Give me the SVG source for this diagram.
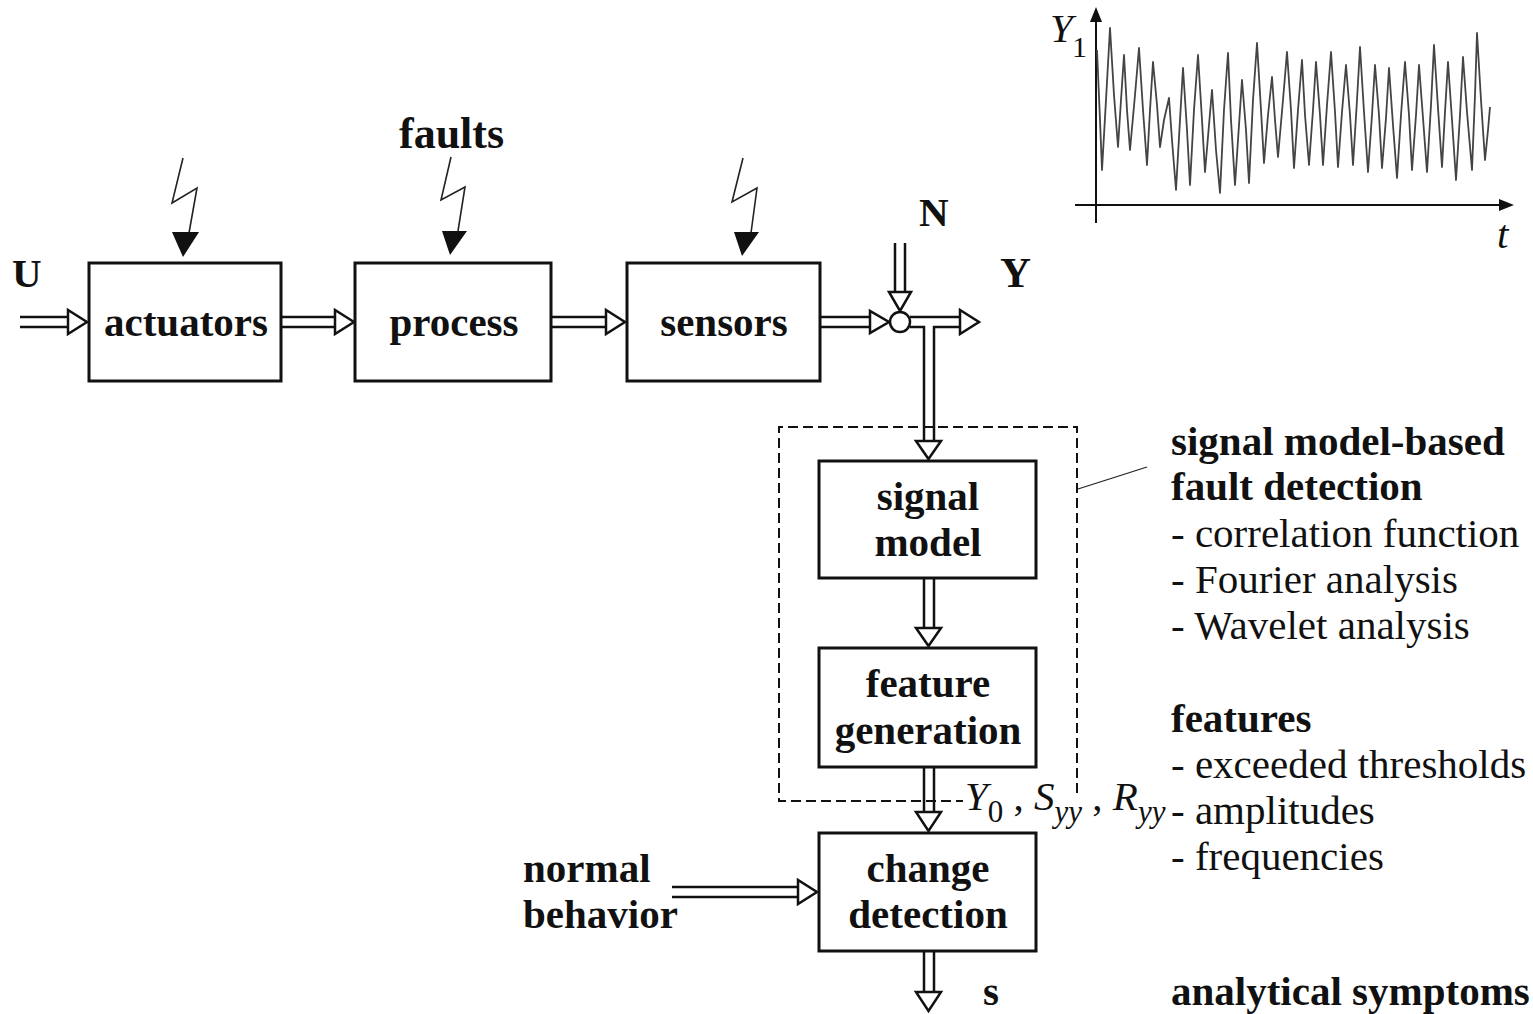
<svg xmlns="http://www.w3.org/2000/svg" width="1533" height="1014" viewBox="0 0 1533 1014">
<style>
.box{fill:#fff;stroke:#111;stroke-width:3}
.lbl{font-family:"Liberation Serif","Times New Roman",serif;font-weight:bold;font-size:41px;fill:#111;text-anchor:middle}
.bt{font-family:"Liberation Serif","Times New Roman",serif;font-weight:bold;font-size:41px;fill:#111}
.rt{font-family:"Liberation Serif","Times New Roman",serif;font-size:41px;fill:#111}
.it{font-family:"Liberation Serif","Times New Roman",serif;font-style:italic;font-size:41px;fill:#111}
.dl{fill:none;stroke:#111;stroke-width:2.5}
.hd{fill:#fff;stroke:#111;stroke-width:2.5;stroke-linejoin:miter}
.bolt{fill:none;stroke:#222;stroke-width:1.6}
.fh{fill:#111;stroke:none}
</style>
<rect width="1533" height="1014" fill="#fff"/>

<!-- chart -->
<g id="chart">
<line x1="1096" y1="223" x2="1096" y2="20" stroke="#111" stroke-width="2"/>
<polygon class="fh" points="1096,7 1090,22 1102,22"/>
<line x1="1075" y1="205" x2="1500" y2="205" stroke="#111" stroke-width="2"/>
<polygon class="fh" points="1514,205 1499,199 1499,211"/>
<polyline fill="none" stroke="#444" stroke-width="1.8" stroke-linejoin="round" points="1097,50 1100,120 1102,170 1106,100 1110,28 1114,95 1118,147 1121,100 1124,55 1127,110 1130,150 1135,95 1139,48 1143,110 1147,165 1150,110 1153,62 1157,105 1160,147 1164,120 1169,98 1172,140 1176,190 1180,120 1183,68 1187,130 1190,185 1194,110 1198,55 1202,120 1205,172 1209,125 1212,90 1216,150 1220,193 1224,110 1228,53 1231,120 1235,185 1239,125 1242,80 1246,130 1249,183 1253,100 1257,43 1261,110 1264,163 1268,115 1272,77 1275,120 1278,157 1283,100 1287,52 1291,110 1294,168 1298,110 1302,60 1305,115 1309,165 1313,110 1316,62 1320,115 1323,165 1327,105 1331,52 1335,112 1338,167 1342,112 1346,65 1350,115 1353,165 1357,100 1360,47 1364,112 1368,172 1372,115 1375,65 1379,115 1382,168 1386,118 1389,68 1393,125 1397,178 1401,115 1405,62 1409,115 1412,170 1416,115 1419,65 1423,118 1427,172 1431,105 1434,45 1438,108 1442,167 1445,112 1448,62 1452,120 1456,180 1460,115 1463,57 1467,112 1472,170 1475,95 1477,33 1481,100 1485,160 1488,130 1490,107"/>
<text class="it" x="1050" y="42">Y</text>
<text x="1072" y="57" font-family="Liberation Serif, serif" font-size="30" fill="#111">1</text>
<text class="it" x="1497" y="248">t</text>
</g>

<!-- faults -->
<g id="faults">
<text class="bt" x="399" y="148" style="font-size:44px">faults</text>
<polyline class="bolt" points="183,158 172,203 197,188 189,233"/>
<polygon class="fh" points="172,232 199,232 183,257"/>
<polyline class="bolt" points="451,157 441,200 465,187 458,231"/>
<polygon class="fh" points="442,231 467,231 450,255"/>
<polyline class="bolt" points="743,158 732,202 757,188 751,233"/>
<polygon class="fh" points="734,232 759,232 742,256"/>
</g>

<!-- connectors -->
<g id="connectors">
<path class="dl" d="M20,317H70M20,327H70"/>
<polygon class="hd" points="68,310 68,334 87,322"/>
<path class="dl" d="M282,317H337M282,327H337"/>
<polygon class="hd" points="335,310 335,334 354,322"/>
<path class="dl" d="M552,317H608M552,327H608"/>
<polygon class="hd" points="606,310 606,334 625,322"/>
<path class="dl" d="M821,317H872M821,327H872"/>
<polygon class="hd" points="870,311 870,333 889,322"/>
<circle cx="900" cy="322" r="10" fill="#fff" stroke="#111" stroke-width="2.5"/>
<path class="dl" d="M895,243V294M905,243V294"/>
<polygon class="hd" points="889,292 911,292 900,311"/>
<path class="dl" d="M910,317H962M910,327H924V443M934,443V327H962"/>
<polygon class="hd" points="960,310 960,334 979,322"/>
<polygon class="hd" points="916,441 941,441 928.5,459"/>
<path class="dl" d="M924,579V630M934,579V630"/>
<polygon class="hd" points="916,628 941,628 928.5,646"/>
<path class="dl" d="M924,768V814M934,768V814"/>
<polygon class="hd" points="916,812 941,812 928.5,831"/>
<path class="dl" d="M924,952V994M934,952V994"/>
<polygon class="hd" points="916,992 941,992 928.5,1011"/>
<path class="dl" d="M672,887H800M672,897H800"/>
<polygon class="hd" points="798,880 798,904 817,892"/>
<path d="M1077,793V427H779V801H963" fill="none" stroke="#111" stroke-width="2" stroke-dasharray="10,5"/>
<line x1="1078" y1="489" x2="1147" y2="467" stroke="#222" stroke-width="1.3"/>
</g>

<g id="actuators"><rect class="box" x="89" y="263" width="192" height="118"/><text class="lbl" x="186" y="336">actuators</text></g>
<g id="process"><rect class="box" x="355" y="263" width="196" height="118"/><text class="lbl" x="454" y="336">process</text></g>
<g id="sensors"><rect class="box" x="627" y="263" width="193" height="118"/><text class="lbl" x="724" y="336">sensors</text></g>
<g id="signal-model"><rect class="box" x="819" y="461" width="217" height="117"/><text class="lbl" x="928" y="510">signal</text><text class="lbl" x="928" y="556">model</text></g>
<g id="feature-generation"><rect class="box" x="819" y="648" width="217" height="119"/><text class="lbl" x="928" y="697">feature</text><text class="lbl" x="928" y="744">generation</text></g>
<g id="change-detection"><rect class="box" x="819" y="833" width="217" height="118"/><text class="lbl" x="928" y="882">change</text><text class="lbl" x="928" y="928">detection</text></g>

<g id="labels">
<text class="bt" x="12" y="287">U</text>
<text class="bt" x="919" y="226">N</text>
<text class="bt" x="1000" y="287" style="font-size:43px">Y</text>
<text class="bt" x="983" y="1005">s</text>
<text class="bt" x="523" y="882">normal</text>
<text class="bt" x="523" y="928">behavior</text>
<text class="it" x="965" y="810">Y<tspan font-style="normal" font-size="31" dy="12">0</tspan><tspan font-style="normal" dy="-12"> , </tspan>S<tspan font-size="31" dy="12">yy</tspan><tspan font-style="normal" dy="-12"> , </tspan>R<tspan font-size="31" dy="12">yy</tspan></text>
<text class="bt" x="1171" y="455">signal model-based</text>
<text class="bt" x="1171" y="500">fault detection</text>
<text class="rt" x="1171" y="547">- correlation function</text>
<text class="rt" x="1171" y="593">- Fourier analysis</text>
<text class="rt" x="1171" y="639">- Wavelet analysis</text>
<text class="bt" x="1171" y="732">features</text>
<text class="rt" x="1171" y="778">- exceeded thresholds</text>
<text class="rt" x="1171" y="824">- amplitudes</text>
<text class="rt" x="1171" y="870">- frequencies</text>
<text class="bt" x="1171" y="1005">analytical symptoms</text>
</g>
</svg>
